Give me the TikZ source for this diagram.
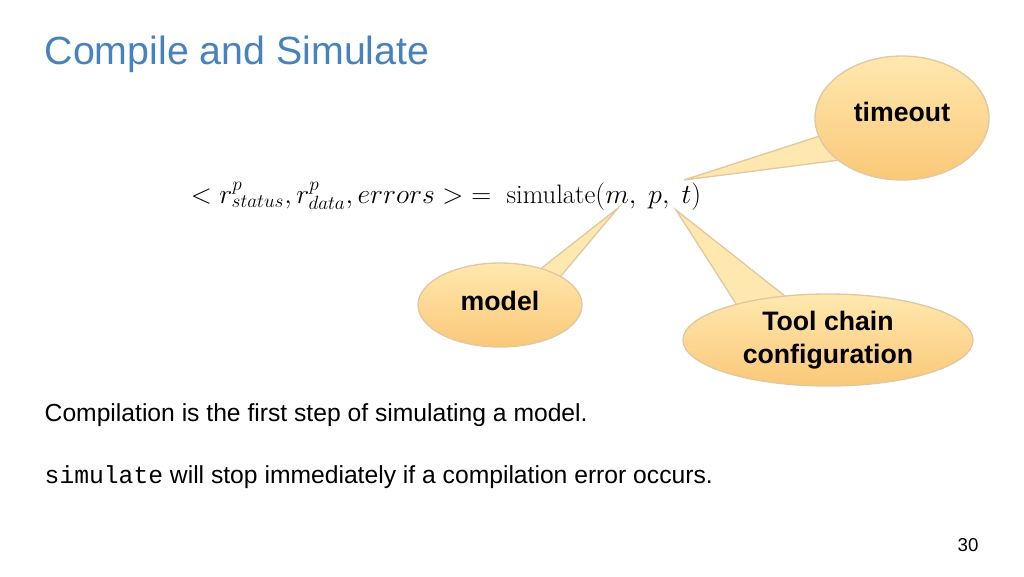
\documentclass[tikz,border=0pt]{standalone}
\usepackage{fontspec}
\setmainfont{Liberation Sans}
\setmonofont{Liberation Mono}
\newfontfamily\lmfont{Latin Modern Roman}
\usetikzlibrary{shapes.geometric}
\definecolor{titleblue}{RGB}{70,130,190}
\definecolor{calltop}{RGB}{255,232,175}
\definecolor{callbot}{RGB}{250,200,120}
\definecolor{callrim}{RGB}{225,200,160}
\tikzset{
  callout/.style={ellipse, draw=callrim, line width=1pt, top color=calltop, bottom color=callbot,
    font=\fontsize{20}{25}\selectfont\bfseries, align=center, inner sep=0pt},
  pointer/.style={draw=callrim, line width=1pt, fill=calltop},
  bodytext/.style={anchor=west, font=\fontsize{18.5}{22}\selectfont}
}
\begin{document}
\begin{tikzpicture}[x=0.75pt, y=-0.75pt]
\useasboundingbox (0,0) rectangle (1024,576);
% title
\node[anchor=west, text=titleblue, font=\fontsize{29.5}{34}\selectfont] (title) at (40,54) {Compile and Simulate};
% formula
\node[font=\fontsize{20}{24}\selectfont] (formula) at (446,196)
  {$<r^{p}_{status}, r^{p}_{data}, errors>\;=\;\mbox{\lmfont simulate}(m,\ p,\ t)$};
\coordinate (tipT) at (684,180);
\coordinate (tipM) at (618,208);
\coordinate (tipC) at (676,210);
% pointers
\draw[pointer] (tipT) -- (832,132) -- (840,160) -- cycle;
\draw[pointer] (tipM) -- (520,285) -- (545,295) -- cycle;
\draw[pointer] (tipC) -- (740,310) -- (790,300) -- cycle;
% callouts
\node[callout, minimum width=130.5pt, minimum height=93pt] (timeout) at (902,118) {\raisebox{10pt}{timeout}};
\node[callout, minimum width=123pt, minimum height=63pt] (model) at (500,305) {\raisebox{6pt}{model}};
\node[callout, minimum width=217.5pt, minimum height=69pt] (toolchain) at (828,340) {Tool chain\\configuration};
% body
\node[bodytext] (line1) at (40,415) {Compilation is the first step of simulating a model.};
\node[bodytext] (line2) at (40,477) {\texttt{simulate} will stop immediately if a compilation error occurs.};
\node[font=\fontsize{14}{16}\selectfont] (page) at (968,545) {30};
\end{tikzpicture}
\end{document}
